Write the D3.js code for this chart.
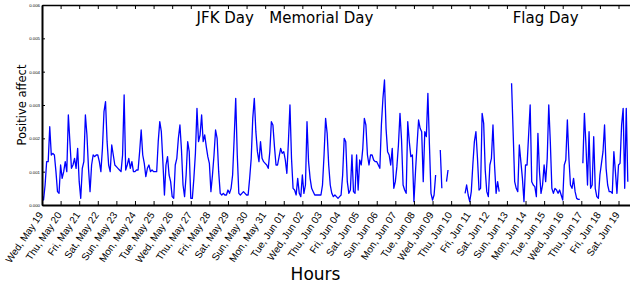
<!DOCTYPE html>
<html>
<head>
<meta charset="utf-8">
<script src="https://cdn.jsdelivr.net/npm/d3@7"></script>
<style>
body { margin: 0; background: #fff; }
svg { display: block; font-family: "DejaVu Sans", sans-serif; }
</style>
</head>
<body>
<div id="chart"></div>
<script>
// time span of the x axis and sampling of the series
var startTime = '2010-05-19T00:00:00Z';
var endTime = '2010-06-19T20:00:00Z';
var stepHours = 2;

// positive affect in units of 1e-4, one row per day, one value every 2 hours (null = no data)
var affect = [
  [3, 1.5, 6, 13, 13, 23.5, 15, 15.5, 15, 10, 4, 3.5],
  [12, 8, 10, 13, 10, 27, 19, 11, 12, 14, 11, 17],
  [7, 2, 11, 13, 27, 21, 11, 4, 12, 15, 14.5, 15],
  [15, 13, 10, 17, 28, 31, 19, 12, 10, 18, 15, 12],
  [11.5, 11, 10.5, 10, 15, 33, 10.5, 12, 14, 11, 13, 10],
  [10, 10.5, 10.5, 16, 22.5, 15, 12.5, 8.5, 11, 12, 10, 10.5],
  [10, 10, 10, 19, 25, 22, 13, 3, 12, 14.5, 9, 7],
  [2.5, 2, 12, 14, 20, 24, 16.5, 6, 2.5, 9, 19, 16],
  [2, 2, 8, 15.5, 29, 19, 21, 27, 19, 21, 17.5, 14.5],
  [12.5, 4, 9, 15, 22.5, 20, 10, 3.5, 3, 3.5, 3, 3],
  [4.5, 3.5, 5, 9, 20, 32, 15, 3.5, 3, 3.5, 4, 3.5],
  [3, 3, 8, 14, 26, 32, 22, 16, 13, 19, 14, 13],
  [12.5, 12, 11, 16, 25, 24, 17.5, 12, 12, 14.5, 17, 15.5],
  [16, 13.5, 9.5, 19, 30, 14, 5, 4.5, 3, 8, 3.5, 2.5],
  [9, 3.5, 6, 25, 13, 8, 5, 4, 3, 3, 3, 3],
  [3, 6, 15, 26, 21.5, 12, 6, 3.5, 2.5, 3, 2.5, 2],
  [2.5, 3, 9, 20, 19, 7, 3.5, 4.5, 15, 4, 3.5, 15],
  [4.5, 13.5, 12, 17, 26, 24, 15, 12, 15, 15, 13.5, 13],
  [13, 12, 11, 24, 32, 37.5, 23, 16, 15, 12, 17, 5],
  [7, 11.5, 18, 27.5, 19.5, 6, 4.5, 3.5, 25, 19, 14.5, 15],
  [1, 10, 18, 25.5, 23, 22, 7, 22, 20.5, 33.5, 18, 3.5],
  [1.5, 3, 9, null, null, 16.5, 5, null, null, 7, 10.5, null],
  [null, null, null, null, null, null, null, null, null, 3.5, 6, 3],
  [1, 4, 12, 19, 22, 14, 4.5, 5, 27.5, 24.5, 10.5, 4],
  [2.5, 12, 14, 24, 12, 3.5, 7, 4, null, null, null, null],
  [null, null, null, 36.5, 22, 7, 5, 4, 18, 13, 8, 1],
  [12, 12, 21, 30, 7, 6, 5.5, 2.5, 21.5, 10, 3.5, 6],
  [12, 7, 14, 30, 19, 5, 3.5, 5, 4.5, 3.5, 4.5, 3],
  [1.5, 12, 13.5, 25.5, 14, 6, 5, 8, 4, 2, 1.7, 1.7],
  [null, 12.5, 27.5, 18, 6, 22, 5, 6, 20.5, 5, 2.5, 2],
  [9, 12.5, 16, 24, 11, 6, 4, 4, 3.5, 16, 10, 3.5],
  [12, 12.5, 24, 29, 5, 29, 7]
];

var yTicks = [0, 0.001, 0.002, 0.003, 0.004, 0.005, 0.006];

var holidays = [
  { label: 'JFK Day', at: '2010-05-27T07:30:00Z' },
  { label: 'Memorial Day', at: '2010-05-31T05:15:00Z' },
  { label: 'Flag Day', at: '2010-06-13T07:30:00Z' }
];

var W = 630, H = 284;
var margin = { top: 5, right: -4, bottom: 79, left: 42 },
    width = W - margin.left - margin.right,
    height = H - margin.top - margin.bottom;

var t0 = new Date(startTime);
var series = d3.merge(affect).map(function (v, i) {
  return { t: d3.utcHour.offset(t0, i * stepHours), v: v == null ? null : v * 1e-4 };
});

var svg = d3.select('#chart').append('svg')
    .attr('width', W)
    .attr('height', H);

var g = svg.append('g')
    .attr('transform', 'translate(' + margin.left + ',' + margin.top + ')');

var x = d3.scaleUtc()
    .domain([t0, new Date(endTime)])
    .range([0, width]);

var y = d3.scaleLinear()
    .domain([0, 0.006])
    .range([height, 0]);

g.append('clipPath').attr('id', 'clip')
  .append('rect').attr('width', width).attr('height', height);

var line = d3.line()
    .defined(function (d) { return d.v != null; })
    .x(function (d) { return x(d.t); })
    .y(function (d) { return y(d.v); });

g.append('path')
    .datum(series)
    .attr('clip-path', 'url(#clip)')
    .attr('fill', 'none')
    .attr('stroke', '#0000ff')
    .attr('stroke-width', 1.3)
    .attr('stroke-linejoin', 'round')
    .attr('d', line);

// bottom axis, one tick per day
var xb = g.append('g')
    .attr('transform', 'translate(0,' + height + ')')
    .call(d3.axisBottom(x)
      .ticks(d3.utcDay.every(1))
      .tickFormat(d3.utcFormat('%a, %b %d'))
      .tickSizeInner(-4)
      .tickSizeOuter(0));
xb.select('.domain').attr('stroke-width', 2);
xb.selectAll('text')
    .attr('x', 0).attr('y', 0).attr('dy', 0)
    .attr('transform', 'translate(1,10) rotate(-56)')
    .style('text-anchor', 'end')
    .attr('font-size', 10)
    .attr('fill', '#000');

// top axis, ticks only
var xt = g.append('g')
    .call(d3.axisTop(x)
      .ticks(d3.utcDay.every(1))
      .tickFormat('')
      .tickSizeInner(-4)
      .tickSizeOuter(0));
xt.select('.domain').attr('stroke-width', 1.5);

// left axis
var yl = g.append('g')
    .call(d3.axisLeft(y)
      .tickValues(yTicks)
      .tickFormat(d3.format('.3f'))
      .tickSizeInner(-3)
      .tickSizeOuter(0)
      .tickPadding(2));
yl.select('.domain').attr('stroke-width', 2);
yl.selectAll('text')
    .attr('font-size', 4.3)
    .attr('fill', '#000');

g.selectAll('.tick line').attr('stroke-width', 1);
svg.selectAll('.domain').attr('stroke', '#000');

// holiday labels
g.selectAll('.holiday')
    .data(holidays)
    .enter()
    .append('text')
      .attr('class', 'holiday')
      .attr('x', function (d) { return x(new Date(d.at)); })
      .attr('y', 18)
      .attr('font-size', 15)
      .attr('fill', '#000')
      .text(function (d) { return d.label; });

svg.append('text')
    .attr('transform', 'translate(26,' + (margin.top + height / 2) + ') rotate(-90)')
    .attr('text-anchor', 'middle')
    .attr('font-size', 11.5)
    .text('Positive affect');

svg.append('text')
    .attr('x', 315.5)
    .attr('y', 280)
    .attr('text-anchor', 'middle')
    .attr('font-size', 17)
    .text('Hours');
</script>
</body>
</html>
